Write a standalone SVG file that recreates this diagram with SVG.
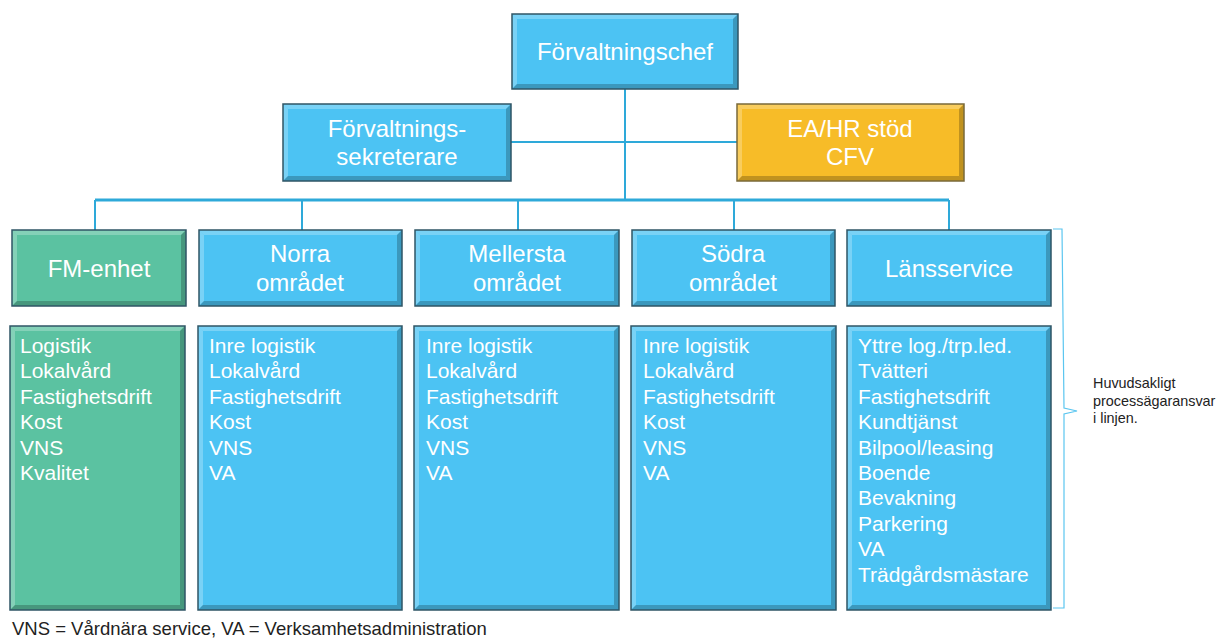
<svg xmlns="http://www.w3.org/2000/svg" width="1217" height="638" viewBox="0 0 1217 638">
<style>
.t{font-family:"Liberation Sans",Arial,sans-serif;fill:#ffffff;}
.h{font-size:24px;text-anchor:middle;}
.l{font-size:21px;}
.blue{fill:#4CC3F3;}
.green{fill:#5BC2A1;}
.orange{fill:#F7BC28;}
.lt{fill:#ffffff;fill-opacity:0.25;}
.dk{fill:#000000;fill-opacity:0.22;}
.bd{fill:none;stroke:#2F5566;stroke-width:1.5;}
.bdo{fill:none;stroke:#7A6A3A;stroke-width:1.5;}
.ln{stroke:#2EA9D9;stroke-width:2;fill:none;}
.note{font-family:"Liberation Sans",Arial,sans-serif;fill:#222222;}
</style>
<rect width="1217" height="638" fill="#ffffff"/>
<g id="connectors">
<line class="ln" x1="625" y1="89" x2="625" y2="200"/>
<line class="ln" x1="511" y1="142" x2="737" y2="142"/>
<line class="ln" x1="95" y1="200" x2="949" y2="200" style="stroke-width:3"/>
<line class="ln" x1="95" y1="200" x2="95" y2="230"/>
<line class="ln" x1="302" y1="200" x2="302" y2="230"/>
<line class="ln" x1="518" y1="200" x2="518" y2="230"/>
<line class="ln" x1="734" y1="200" x2="734" y2="230"/>
<line class="ln" x1="949" y1="200" x2="949" y2="230"/>
</g>
<g id="chef">
<rect class="blue" x="512" y="14" width="226" height="75"/>
<polygon class="lt" points="512,14 738,14 733,19 517,19"/>
<polygon class="lt" points="512,14 517,19 517,84 512,89"/>
<polygon class="dk" points="738,14 738,89 733,84 733,19"/>
<polygon class="dk" points="512,89 738,89 733,84 517,84"/>
<rect class="bd" x="512" y="14" width="226" height="75"/>
<text class="t h" x="625" y="60">Förvaltningschef</text>
</g>
<g id="sekreterare">
<rect class="blue" x="283" y="104" width="228" height="77"/>
<polygon class="lt" points="283,104 511,104 506,109 288,109"/>
<polygon class="lt" points="283,104 288,109 288,176 283,181"/>
<polygon class="dk" points="511,104 511,181 506,176 506,109"/>
<polygon class="dk" points="283,181 511,181 506,176 288,176"/>
<rect class="bd" x="283" y="104" width="228" height="77"/>
<text class="t h" x="397" y="137">Förvaltnings-</text>
<text class="t h" x="397" y="165">sekreterare</text>
</g>
<g id="eahr">
<rect class="orange" x="737" y="104" width="227" height="77"/>
<polygon class="lt" points="737,104 964,104 959,109 742,109"/>
<polygon class="lt" points="737,104 742,109 742,176 737,181"/>
<polygon class="dk" points="964,104 964,181 959,176 959,109"/>
<polygon class="dk" points="737,181 964,181 959,176 742,176"/>
<rect class="bdo" x="737" y="104" width="227" height="77"/>
<text class="t h" x="850" y="137">EA/HR stöd</text>
<text class="t h" x="850" y="165">CFV</text>
</g>
<g id="fm-enhet">
<rect class="green" x="12" y="230" width="174" height="76"/>
<polygon class="lt" points="12,230 186,230 181,235 17,235"/>
<polygon class="lt" points="12,230 17,235 17,301 12,306"/>
<polygon class="dk" points="186,230 186,306 181,301 181,235"/>
<polygon class="dk" points="12,306 186,306 181,301 17,301"/>
<rect class="bd" x="12" y="230" width="174" height="76"/>
<text class="t h" x="99" y="277">FM-enhet</text>
</g>
<g id="norra">
<rect class="blue" x="199" y="230" width="203" height="76"/>
<polygon class="lt" points="199,230 402,230 397,235 204,235"/>
<polygon class="lt" points="199,230 204,235 204,301 199,306"/>
<polygon class="dk" points="402,230 402,306 397,301 397,235"/>
<polygon class="dk" points="199,306 402,306 397,301 204,301"/>
<rect class="bd" x="199" y="230" width="203" height="76"/>
<text class="t h" x="300" y="262">Norra</text>
<text class="t h" x="300" y="291">området</text>
</g>
<g id="mellersta">
<rect class="blue" x="415" y="230" width="204" height="76"/>
<polygon class="lt" points="415,230 619,230 614,235 420,235"/>
<polygon class="lt" points="415,230 420,235 420,301 415,306"/>
<polygon class="dk" points="619,230 619,306 614,301 614,235"/>
<polygon class="dk" points="415,306 619,306 614,301 420,301"/>
<rect class="bd" x="415" y="230" width="204" height="76"/>
<text class="t h" x="517" y="262">Mellersta</text>
<text class="t h" x="517" y="291">området</text>
</g>
<g id="sodra">
<rect class="blue" x="632" y="230" width="203" height="76"/>
<polygon class="lt" points="632,230 835,230 830,235 637,235"/>
<polygon class="lt" points="632,230 637,235 637,301 632,306"/>
<polygon class="dk" points="835,230 835,306 830,301 830,235"/>
<polygon class="dk" points="632,306 835,306 830,301 637,301"/>
<rect class="bd" x="632" y="230" width="203" height="76"/>
<text class="t h" x="733" y="262">Södra</text>
<text class="t h" x="733" y="291">området</text>
</g>
<g id="lansservice">
<rect class="blue" x="847" y="230" width="204" height="76"/>
<polygon class="lt" points="847,230 1051,230 1046,235 852,235"/>
<polygon class="lt" points="847,230 852,235 852,301 847,306"/>
<polygon class="dk" points="1051,230 1051,306 1046,301 1046,235"/>
<polygon class="dk" points="847,306 1051,306 1046,301 852,301"/>
<rect class="bd" x="847" y="230" width="204" height="76"/>
<text class="t h" x="949" y="277">Länsservice</text>
</g>
<g id="fm-list">
<rect class="green" x="10" y="326" width="175" height="284"/>
<polygon class="lt" points="10,326 185,326 180,331 15,331"/>
<polygon class="lt" points="10,326 15,331 15,605 10,610"/>
<polygon class="dk" points="185,326 185,610 180,605 180,331"/>
<polygon class="dk" points="10,610 185,610 180,605 15,605"/>
<rect class="bd" x="10" y="326" width="175" height="284"/>
<text class="t l" x="20" y="353">Logistik</text>
<text class="t l" x="20" y="378.4">Lokalvård</text>
<text class="t l" x="20" y="403.8">Fastighetsdrift</text>
<text class="t l" x="20" y="429.2">Kost</text>
<text class="t l" x="20" y="454.6">VNS</text>
<text class="t l" x="20" y="480">Kvalitet</text>
</g>
<g id="norra-list">
<rect class="blue" x="198" y="326" width="204" height="284"/>
<polygon class="lt" points="198,326 402,326 397,331 203,331"/>
<polygon class="lt" points="198,326 203,331 203,605 198,610"/>
<polygon class="dk" points="402,326 402,610 397,605 397,331"/>
<polygon class="dk" points="198,610 402,610 397,605 203,605"/>
<rect class="bd" x="198" y="326" width="204" height="284"/>
<text class="t l" x="209" y="353">Inre logistik</text>
<text class="t l" x="209" y="378.4">Lokalvård</text>
<text class="t l" x="209" y="403.8">Fastighetsdrift</text>
<text class="t l" x="209" y="429.2">Kost</text>
<text class="t l" x="209" y="454.6">VNS</text>
<text class="t l" x="209" y="480">VA</text>
</g>
<g id="mellersta-list">
<rect class="blue" x="414" y="326" width="205" height="284"/>
<polygon class="lt" points="414,326 619,326 614,331 419,331"/>
<polygon class="lt" points="414,326 419,331 419,605 414,610"/>
<polygon class="dk" points="619,326 619,610 614,605 614,331"/>
<polygon class="dk" points="414,610 619,610 614,605 419,605"/>
<rect class="bd" x="414" y="326" width="205" height="284"/>
<text class="t l" x="426" y="353">Inre logistik</text>
<text class="t l" x="426" y="378.4">Lokalvård</text>
<text class="t l" x="426" y="403.8">Fastighetsdrift</text>
<text class="t l" x="426" y="429.2">Kost</text>
<text class="t l" x="426" y="454.6">VNS</text>
<text class="t l" x="426" y="480">VA</text>
</g>
<g id="sodra-list">
<rect class="blue" x="631" y="326" width="205" height="284"/>
<polygon class="lt" points="631,326 836,326 831,331 636,331"/>
<polygon class="lt" points="631,326 636,331 636,605 631,610"/>
<polygon class="dk" points="836,326 836,610 831,605 831,331"/>
<polygon class="dk" points="631,610 836,610 831,605 636,605"/>
<rect class="bd" x="631" y="326" width="205" height="284"/>
<text class="t l" x="643" y="353">Inre logistik</text>
<text class="t l" x="643" y="378.4">Lokalvård</text>
<text class="t l" x="643" y="403.8">Fastighetsdrift</text>
<text class="t l" x="643" y="429.2">Kost</text>
<text class="t l" x="643" y="454.6">VNS</text>
<text class="t l" x="643" y="480">VA</text>
</g>
<g id="lans-list">
<rect class="blue" x="847" y="326" width="204" height="284"/>
<polygon class="lt" points="847,326 1051,326 1046,331 852,331"/>
<polygon class="lt" points="847,326 852,331 852,605 847,610"/>
<polygon class="dk" points="1051,326 1051,610 1046,605 1046,331"/>
<polygon class="dk" points="847,610 1051,610 1046,605 852,605"/>
<rect class="bd" x="847" y="326" width="204" height="284"/>
<text class="t l" x="858" y="353">Yttre log./trp.led.</text>
<text class="t l" x="858" y="378.4">Tvätteri</text>
<text class="t l" x="858" y="403.8">Fastighetsdrift</text>
<text class="t l" x="858" y="429.2">Kundtjänst</text>
<text class="t l" x="858" y="454.6">Bilpool/leasing</text>
<text class="t l" x="858" y="480">Boende</text>
<text class="t l" x="858" y="505.4">Bevakning</text>
<text class="t l" x="858" y="530.8">Parkering</text>
<text class="t l" x="858" y="556.2">VA</text>
<text class="t l" x="858" y="581.6">Trädgårdsmästare</text>
</g>
<g id="brace">
<path d="M1053,229 L1062,229 L1064,408 L1077,411 L1064,414 L1064,608 L1053,608" fill="none" stroke="#5BC6F0" stroke-width="1.2"/>
<text class="note" font-size="14.4" x="1093" y="388">Huvudsakligt</text>
<text class="note" font-size="14.4" x="1093" y="405.5">processägaransvar</text>
<text class="note" font-size="14.4" x="1093" y="423">i linjen.</text>
</g>
<g id="footer">
<text class="note" font-size="18.5" x="12" y="635" fill="#111111">VNS = Vårdnära service, VA = Verksamhetsadministration</text>
</g>
</svg>
